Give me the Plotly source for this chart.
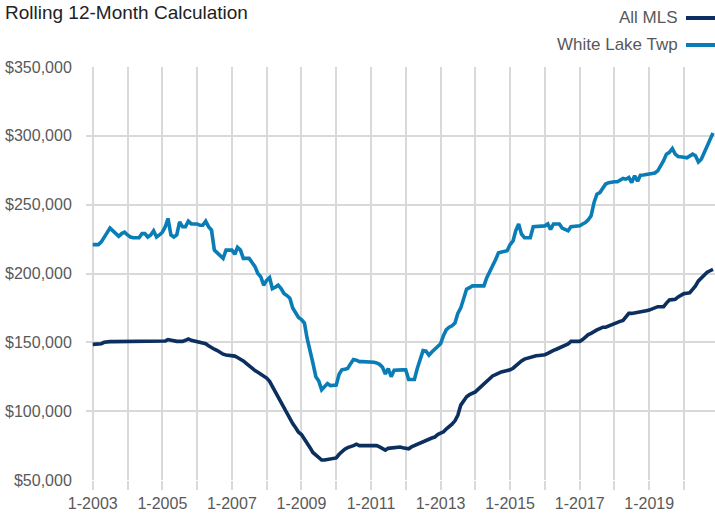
import pandas as pd
import plotly.graph_objects as go

title_text = "Rolling 12-Month Calculation"
series_names = ["All MLS", "White Lake Twp"]
start_month = "2003-01-01"

# Monthly rolling 12-month values (thousands of $), Jan 2003 - Nov 2020
all_mls = [
    148.5, 148.5, 148.5, 149, 150, 150.5, 150.5, 150.5, 150.5, 150.5, 150.5, 150.5,  # 2003
    150.5, 150.5, 150.5, 150.5, 150.5, 150.5, 150.5, 150.5, 150.5, 150.5, 150.5, 150.5,  # 2004
    150.5, 151, 152, 151.5, 151, 150.7, 150.7, 150.7, 151.5, 152.5, 151.5, 151,  # 2005
    150.7, 150.5, 150, 149, 147.5, 146, 145, 144, 142.5, 141.4, 140.8, 140.6,  # 2006
    140.6, 140, 139, 138, 136.5, 134.7, 132.8, 131, 129.5, 128.3, 127, 126,  # 2007
    124, 121.7, 118, 114, 110, 106.5, 103, 98.5, 94.6, 91, 88, 84.7,  # 2008
    83, 80, 77.3, 73.5, 70, 68, 66, 64.5, 64.5, 65, 65, 65.5,  # 2009
    66, 68.7, 70.5, 72.4, 73.5, 74, 75, 76, 75, 75, 75, 75,  # 2010
    75, 75, 75, 74, 72.5, 71.7, 73, 73.3, 73.6, 74, 74, 73.5,  # 2011
    73, 72.7, 74, 75, 76, 76.8, 77.6, 79, 80, 80.5, 81.2, 83,  # 2012
    84, 85, 87, 88.5, 90.5, 93, 97, 104.4, 107.5, 110.5, 112, 113,  # 2013
    114, 116, 117.8, 120, 122, 124, 125.6, 126.5, 127.6, 128.5, 129, 129.5,  # 2014
    130, 131.2, 133, 134.9, 136.5, 137.8, 138.5, 139, 139.8, 140.2, 140.5, 140.8,  # 2015
    141, 142, 143.4, 144.2, 145, 145.9, 147, 148, 148.8, 150.7, 150.7, 150.7,  # 2016
    150.7, 152, 154, 155.6, 156.5, 158, 159, 160, 161, 161, 162, 163,  # 2017
    164, 164.5, 165.2, 165.9, 168.5, 171, 171, 171.3, 171.5, 172, 172.7, 173,  # 2018
    173.4, 174.5, 175.5, 175.9, 175.9, 175.9, 178.5, 180.7, 181, 181.2, 183, 184.5,  # 2019
    185.4, 185.7, 186, 188.5, 191, 194.6, 197, 199.5, 201, 202, 203,  # 2020
]

white_lake = [
    221, 221, 221, 223, 226, 230, 233, 231, 229, 227, 229, 230,  # 2003
    228, 226.5, 226, 226, 226, 229, 229, 226.5, 228, 231, 226.5, 228,  # 2004
    230, 234, 240, 228, 226.5, 228, 237.5, 234, 234, 238, 236, 236,  # 2005
    236, 235, 235, 238, 234, 231.5, 217, 215, 213, 211, 217, 217,  # 2006
    217, 214, 219, 217, 211, 211, 211, 208, 205, 200, 197.5, 191.5,  # 2007
    195, 197, 189, 190, 191.5, 189, 185.5, 184, 182, 175, 172, 168,  # 2008
    166.5, 164, 153, 144.5, 135, 125, 122, 115.5, 118, 120, 118.6, 118.6,  # 2009
    119, 127, 130, 130.5, 131, 134.5, 137.5, 137, 136, 136, 136, 136,  # 2010
    136, 135.5, 135, 134, 132, 127, 131, 125, 129.7, 130, 130, 130,  # 2011
    130, 123, 123, 123, 131, 138, 144, 143.6, 140.7, 143, 145, 147,  # 2012
    149, 155, 159, 161, 162, 164, 171, 175, 182, 188.5, 189.7, 191,  # 2013
    191, 191, 191, 191, 197, 201, 205.6, 210, 215, 215.7, 216, 216.5,  # 2014
    221, 223.7, 231, 236, 228.6, 226, 226, 226, 234, 234, 234, 234,  # 2015
    234.6, 236, 232, 236, 236, 236, 233, 232, 231, 234, 234, 234.5,  # 2016
    234.6, 236, 237, 239, 242, 251.6, 257.6, 258.8, 262, 265, 266, 266.6,  # 2017
    266.6, 266.6, 268, 269, 268.5, 269.7, 266, 271, 267, 271.4, 271.5, 272,  # 2018
    272, 272.5, 273, 274.6, 278, 282, 286.7, 288, 290.8, 286.7, 285, 285,  # 2019
    284.5, 284, 285, 286.7, 285.5, 281, 283, 288, 292.7, 297, 302,  # 2020
]

y_ticks = [50000, 100000, 150000, 200000, 250000, 300000, 350000]
y_tick_labels = ["$50,000", "$100,000", "$150,000", "$200,000", "$250,000", "$300,000", "$350,000"]

colors = {"All MLS": "#0b2f5f", "White Lake Twp": "#0a7db6"}
months = pd.date_range(start_month, periods=len(all_mls), freq="MS")

FONT = "Liberation Sans, Arial, sans-serif"
GRID = "#d9d9d9"
TXT = "#595959"

fig = go.Figure()
for name, vals in zip(series_names, [all_mls, white_lake]):
    fig.add_trace(go.Scatter(
        x=months, y=[v * 1000 for v in vals], mode="lines", name=name,
        line=dict(color=colors[name], width=3.6), showlegend=False,
    ))

L, R, T, B = 86, 0, 67, 35
W, H = 715, 515
pw, ph = W - L - R, H - T - B

def px_x(p):
    return (p - L) / pw

def px_y(p):
    return (H - B - p) / ph

annotations = []
shapes = []
for name, yy in zip(series_names, [17, 44]):
    annotations.append(dict(
        text=name, x=px_x(680), y=px_y(yy), xref="paper", yref="paper",
        xanchor="right", yanchor="middle", showarrow=False,
        font=dict(family=FONT, size=17, color=TXT),
    ))
    shapes.append(dict(
        type="line", xref="paper", yref="paper",
        x0=px_x(686), x1=px_x(716), y0=px_y(yy + 1), y1=px_y(yy + 1),
        line=dict(color=colors[name], width=4),
    ))

fig.update_layout(
    width=W, height=H,
    margin=dict(l=L, r=R, t=T, b=B, autoexpand=False),
    paper_bgcolor="white", plot_bgcolor="white",
    title=dict(text=title_text, xref="container", yref="container",
               x=5 / W, xanchor="left", y=1 - 12 / H, yanchor="middle",
               font=dict(family=FONT, size=19, color="#222222")),
    annotations=annotations, shapes=shapes,
    font=dict(family=FONT, color=TXT),
)

fig.update_xaxes(
    type="date", range=["2002-10-22", "2020-11-22"],
    tick0="2003-01-01", dtick="M24", tickformat="%-m-%Y",
    showgrid=True, gridcolor=GRID, gridwidth=2,
    ticks="outside", ticklen=9, tickwidth=2, tickcolor=GRID,
    tickfont=dict(family=FONT, size=16, color=TXT),
    minor=dict(tick0="2003-01-01", dtick="M12", showgrid=True, gridcolor=GRID,
               gridwidth=2, ticks="outside", ticklen=9, tickwidth=2, tickcolor=GRID),
    showline=False, zeroline=False, automargin=False,
)
fig.update_yaxes(
    range=[50000, 350000], tickmode="array", tickvals=y_ticks, ticktext=y_tick_labels,
    showgrid=True, gridcolor=GRID, gridwidth=2, zeroline=False, showline=False,
    ticks="outside", ticklen=10, tickcolor="rgba(0,0,0,0)",
    tickfont=dict(family=FONT, size=16, color=TXT), automargin=False,
)

fig.write_html(
    "out.html",
    config={"displayModeBar": False},
    post_script="document.body.style.margin='0';document.body.style.overflow='hidden';",
)
